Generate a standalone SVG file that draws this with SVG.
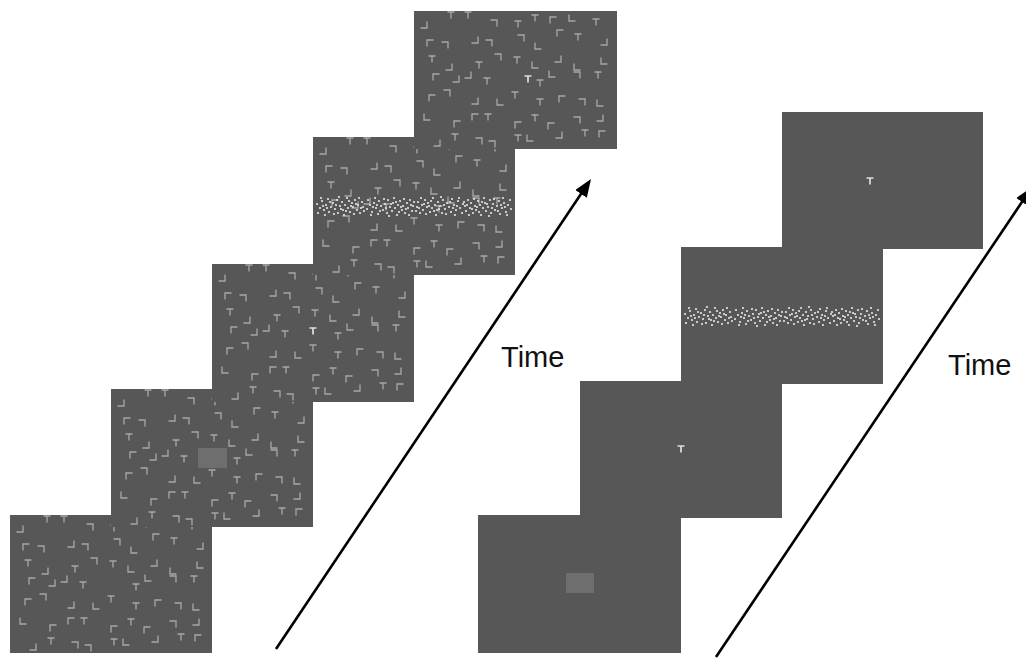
<svg xmlns="http://www.w3.org/2000/svg" xmlns:xlink="http://www.w3.org/1999/xlink" width="1026" height="665" viewBox="0 0 1026 665">
<style>
.panel{fill:#575757}
.it{fill:none;stroke:#a8a8a8;stroke-width:1.3}
.tg{fill:none;stroke:#e0e0e0;stroke-width:1.7}
.cue{fill:#6e6e6e}
.dot{fill:#e6e6e6}
.arrow{stroke:#000;stroke-width:2.6;fill:none}
.lbl{font-family:"Liberation Sans",Arial,sans-serif;font-size:29px;fill:#111}
</style>
<defs>
<marker id="head" markerUnits="userSpaceOnUse" markerWidth="20" markerHeight="16" refX="14" refY="7" orient="auto">
<path d="M0,0 L18,7 L0,14 z" fill="#000"/>
</marker>
<path id="T" d="M-3.5,-3H3.5M0,-3V3.5"/>
<path id="tl" d="M-3,3.5V-3H3.5"/>
<path id="tr" d="M-3.5,-3H3V3.5"/>
<path id="br" d="M-3.5,3H3V-3.5"/>
<path id="bl" d="M-3,-3.5V3H3.5"/>
<g id="arr" class="it">
<use href="#T" x="37" y="4"/><use href="#T" x="54" y="4"/><use href="#T" x="121" y="7"/><use href="#T" x="182" y="11"/><use href="#T" x="104" y="13"/><use href="#T" x="164" y="26"/><use href="#T" x="18" y="48"/><use href="#T" x="103" y="49"/><use href="#T" x="65" y="54"/><use href="#T" x="73" y="70"/><use href="#T" x="126" y="72"/><use href="#T" x="184" y="64"/><use href="#T" x="101" y="84"/><use href="#T" x="126" y="91"/><use href="#T" x="74" y="106"/><use href="#T" x="121" y="107"/><use href="#T" x="41" y="126"/><use href="#T" x="104" y="127"/><use href="#T" x="171" y="122"/>
<use href="#tl" x="139" y="9"/><use href="#tl" x="146" y="22"/><use href="#tl" x="16" y="32"/><use href="#tl" x="22" y="66"/><use href="#tl" x="18" y="87"/><use href="#tl" x="148" y="88"/><use href="#tl" x="61" y="106"/><use href="#tl" x="43" y="113"/><use href="#tl" x="104" y="114"/><use href="#tl" x="137" y="115"/><use href="#tl" x="188" y="123"/>
<use href="#tr" x="80" y="12"/><use href="#tr" x="107" y="27"/><use href="#tr" x="31" y="34"/><use href="#tr" x="75" y="32"/><use href="#tr" x="84" y="46"/><use href="#tr" x="163" y="64"/><use href="#tr" x="33" y="82"/><use href="#tr" x="168" y="91"/><use href="#tr" x="163" y="109"/><use href="#tr" x="65" y="130"/><use href="#tr" x="78" y="133"/>
<use href="#br" x="10" y="14"/><use href="#br" x="61" y="29"/><use href="#br" x="190" y="31"/><use href="#br" x="144" y="48"/><use href="#br" x="35" y="56"/><use href="#br" x="42" y="68"/><use href="#br" x="54" y="64"/><use href="#br" x="61" y="90"/><use href="#br" x="186" y="107"/><use href="#br" x="145" y="124"/><use href="#br" x="23" y="132"/>
<use href="#bl" x="158" y="7"/><use href="#bl" x="124" y="35"/><use href="#bl" x="121" y="54"/><use href="#bl" x="190" y="50"/><use href="#bl" x="163" y="56"/><use href="#bl" x="138" y="63"/><use href="#bl" x="86" y="91"/><use href="#bl" x="186" y="92"/><use href="#bl" x="13" y="106"/><use href="#bl" x="116" y="127"/>
</g>
<g id="tile" class="dot">
<circle cx="2" cy="8" r="1.1"/><circle cx="5" cy="12" r="1.1"/><circle cx="7" cy="5" r="1.1"/><circle cx="9" cy="14" r="1.1"/><circle cx="11" cy="9" r="1.1"/><circle cx="13" cy="3" r="1.1"/><circle cx="14" cy="16" r="1.1"/><circle cx="16" cy="11" r="1.1"/><circle cx="18" cy="7" r="1.1"/><circle cx="20" cy="13" r="1.1"/><circle cx="22" cy="4" r="1.1"/><circle cx="23" cy="17" r="1.1"/><circle cx="25" cy="10" r="1.1"/><circle cx="27" cy="6" r="1.1"/><circle cx="28" cy="14" r="1.1"/><circle cx="30" cy="9" r="1.1"/><circle cx="32" cy="2" r="1.1"/><circle cx="33" cy="12" r="1.1"/><circle cx="35" cy="16" r="1.1"/><circle cx="37" cy="7" r="1.1"/><circle cx="38" cy="11" r="1.1"/><circle cx="40" cy="4" r="1.1"/><circle cx="42" cy="14" r="1.1"/><circle cx="43" cy="9" r="1.1"/><circle cx="45" cy="17" r="1.1"/><circle cx="47" cy="6" r="1.1"/><circle cx="48" cy="11" r="1.1"/><circle cx="3" cy="17" r="1.1"/><circle cx="6" cy="2" r="1.1"/><circle cx="10" cy="19" r="1.1"/><circle cx="15" cy="6" r="1.1"/><circle cx="19" cy="18" r="1.1"/><circle cx="24" cy="1" r="1.1"/><circle cx="29" cy="19" r="1.1"/><circle cx="34" cy="5" r="1.1"/><circle cx="39" cy="18" r="1.1"/><circle cx="44" cy="2" r="1.1"/><circle cx="49" cy="15" r="1.1"/><circle cx="12" cy="12" r="1.1"/><circle cx="26" cy="13" r="1.1"/><circle cx="36" cy="10" r="1.1"/><circle cx="41" cy="8" r="1.1"/><circle cx="8" cy="10" r="1.1"/><circle cx="21" cy="9" r="1.1"/><circle cx="31" cy="15" r="1.1"/><circle cx="46" cy="12" r="1.1"/>
</g>
<g id="noise">
<use href="#tile" x="2" y="59"/>
<use href="#tile" transform="translate(52,139) scale(1,-1)" y="59"/>
<use href="#tile" transform="translate(152,0) scale(-1,1)" y="59"/>
<use href="#tile" transform="translate(200,139) scale(-1,-1)" y="59"/>
</g>
</defs>
<rect width="1026" height="665" fill="#fff"/>

<g id="L1" transform="translate(10,515)"><rect class="panel" width="202" height="138"/><use href="#arr"/></g>
<g id="L2" transform="translate(111,389)"><rect class="panel" width="202" height="138"/><use href="#arr"/><rect class="cue" x="87" y="59" width="29" height="20"/></g>
<g id="L3" transform="translate(212,264)"><rect class="panel" width="202" height="138"/><use href="#arr"/><use href="#T" class="tg" x="101" y="67"/></g>
<g id="L4" transform="translate(313,137)"><rect class="panel" width="202" height="138"/><use href="#arr"/><use href="#noise"/></g>
<g id="L5" transform="translate(414,11)"><rect class="panel" width="203" height="138"/><use href="#arr"/><use href="#T" class="tg" x="114" y="68"/></g>

<g id="R1" transform="translate(478,515)"><rect class="panel" width="203" height="138"/><rect class="cue" x="88" y="58" width="28" height="20"/></g>
<g id="R2" transform="translate(580,381)"><rect class="panel" width="202" height="137"/><use href="#T" class="tg" x="101" y="68"/></g>
<g id="R3" transform="translate(681,247)"><rect class="panel" width="202" height="137"/><use href="#noise"/></g>
<g id="R4" transform="translate(782,112)"><rect class="panel" width="201" height="137"/><use href="#T" class="tg" x="88" y="69"/></g>

<g id="connectors">
<line class="arrow" x1="276" y1="649" x2="588.8" y2="182.3" marker-end="url(#head)"/>
<line class="arrow" x1="716" y1="657" x2="1029.8" y2="190.3" marker-end="url(#head)"/>
</g>
<g id="labels">
<text class="lbl" x="501" y="367">Time</text>
<text class="lbl" x="948" y="375">Time</text>
</g>
</svg>
